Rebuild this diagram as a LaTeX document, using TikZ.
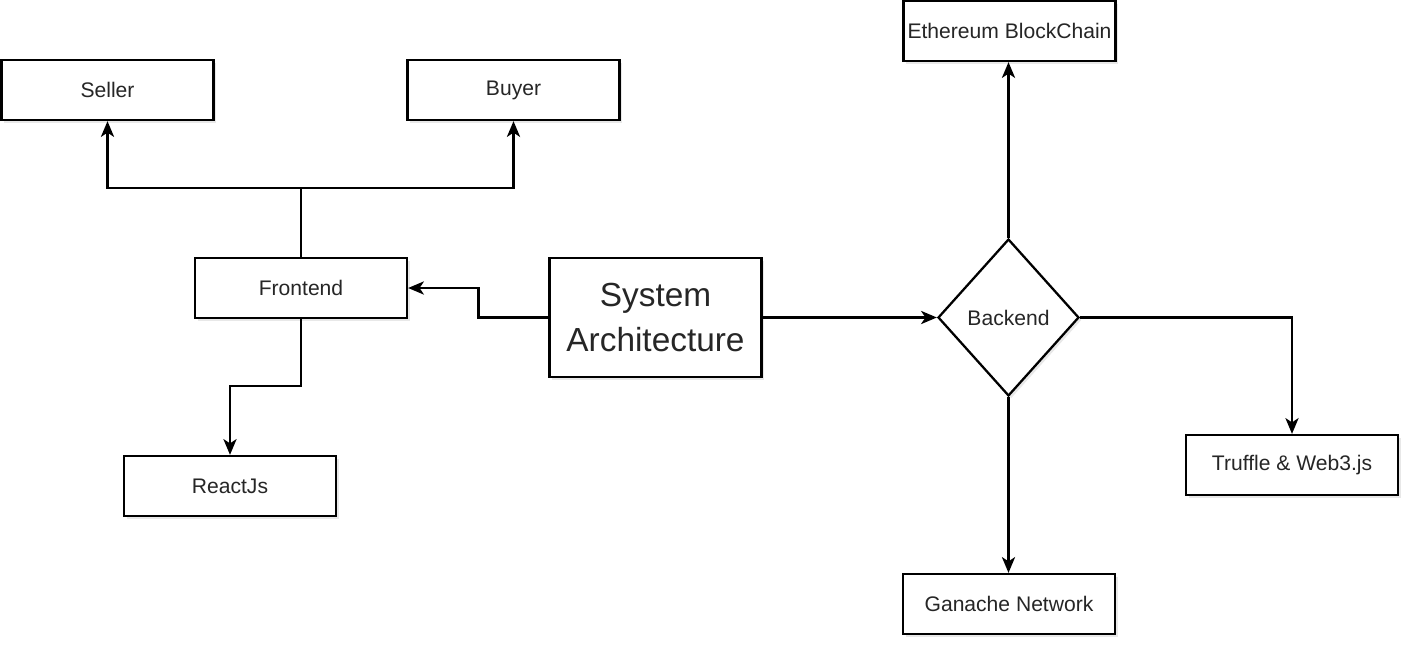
\documentclass[tikz,border=0pt]{standalone}
\usepackage{fontspec}
\setmainfont{Liberation Sans}
\usetikzlibrary{shapes.geometric,arrows.meta,shadows}

\tikzset{
box/.style={draw,line width=1.3pt,fill=white,inner sep=0pt,minimum width=4.24cm,minimum height=1.2cm,font=\fontsize{12}{14}\selectfont,text=black!85,drop shadow={shadow xshift=1.5pt,shadow yshift=-1.5pt,opacity=0.18,fill=gray}},
decision/.style={diamond,draw,line width=1.3pt,fill=white,inner sep=0pt,minimum width=2.82cm,minimum height=3.14cm,font=\fontsize{12}{14}\selectfont,text=black!85,drop shadow={shadow xshift=1.5pt,shadow yshift=-1.5pt,opacity=0.18,fill=gray}},
link/.style={line width=1.3pt,-{Stealth[length=9pt,width=7.5pt,inset=2.5pt]}}
}

\begin{document}
\begin{tikzpicture}[x=0.02cm,y=-0.02cm]
\useasboundingbox (0,0) rectangle (1421,659);
\node[box] (seller) at (107.5,90) {Seller};
\node[box] (buyer) at (513.5,90) {Buyer};
\node[box] (frontend) at (301,288) {Frontend};
\node[box] (react) at (230,486) {ReactJs};
\node[box,minimum height=2.38cm,align=center,font=\fontsize{19}{26}\selectfont] (sysarch) at (655.5,317.5) {System\\Architecture};
\node[decision] (backend) at (1008.5,317.5) {Backend};
\node[box] (eth) at (1009.5,31) {Ethereum BlockChain};
\node[box] (truffle) at (1292,465) {Truffle \& Web3.js};
\node[box] (ganache) at (1009,604) {Ganache Network};
\coordinate (fork) at (301,188);
\draw[line width=1.3pt] (frontend.north) -- (fork);
\draw[link] (fork) -| (seller.south);
\draw[link] (fork) -| (buyer.south);
\draw[link] (frontend.south) -- ++(0,67) -| (react.north);
\draw[link] (sysarch.west) -- ++(-70,0) |- (frontend.east);
\draw[link] (sysarch.east) -- (backend.west);
\draw[link] (backend.north) -- (backend.north |- eth.south);
\draw[link] (backend.east) -| (truffle.north);
\draw[link] (backend.south) -- (backend.south |- ganache.north);
\end{tikzpicture}
\end{document}
